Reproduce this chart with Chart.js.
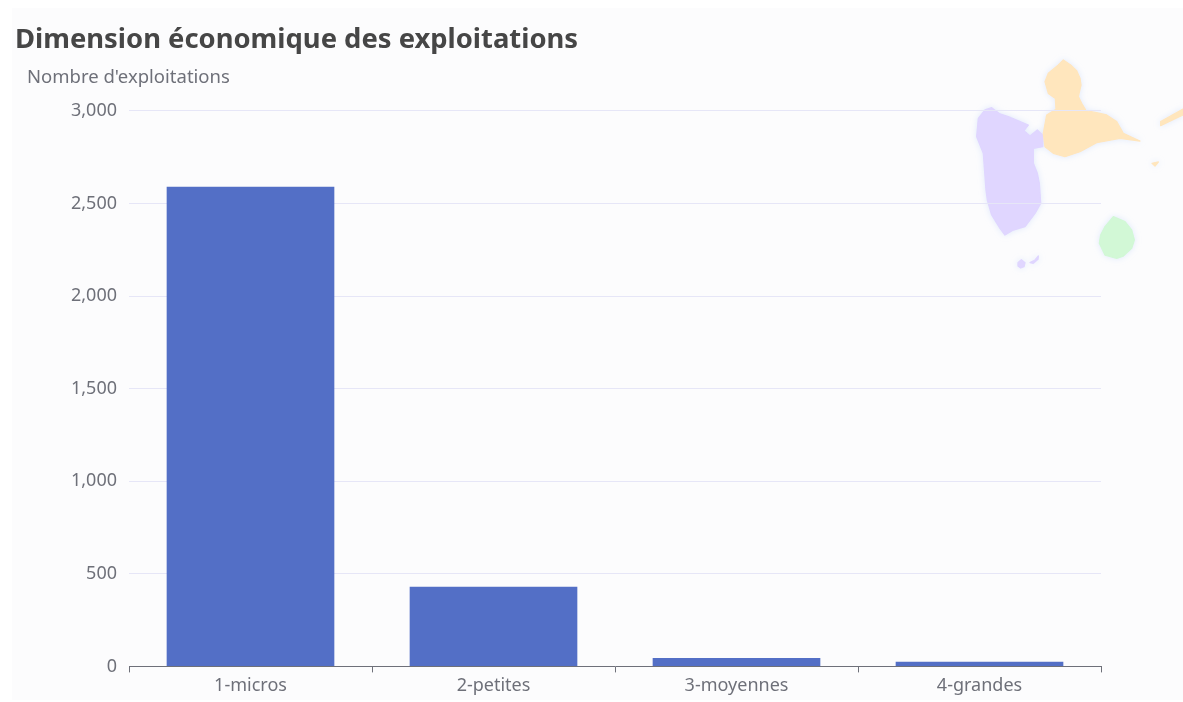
<!DOCTYPE html>
<html lang="fr">
<head>
<meta charset="utf-8">
<title>Dimension économique des exploitations</title>
<script src="https://cdn.jsdelivr.net/npm/chart.js@4/dist/chart.umd.min.js"></script>
<style>
  html, body { margin: 0; padding: 0; background: #fff; overflow: hidden; }
  #panel { position: absolute; left: 12px; top: 8px; width: 1171px; height: 692px; background: #fcfcfd; }
  #map { position: absolute; left: 950px; top: 40px; }
  #chart { position: absolute; left: 0; top: 0; }
</style>
</head>
<body>
<div id="panel"></div>
<!-- Guadeloupe silhouette behind the chart -->
<svg id="map" width="233" height="240" viewBox="0 0 699 720">
  <defs>
    <filter id="glow" x="-30%" y="-30%" width="160%" height="160%">
      <feGaussianBlur stdDeviation="2" in="SourceGraphic" result="soft"/>
      <feDropShadow in="soft" dx="0" dy="0" stdDeviation="10" flood-color="#dde7fb" flood-opacity="0.9"/>
    </filter>
  </defs>
  <g filter="url(#glow)" stroke-width="4" stroke-linejoin="round">
    <path fill="#e0d6ff" stroke="#e0d6ff" d="M125 203L150 222L175 230L200 240L235 255L222 272L240 288L262 270L278 285L278 320L250 325L250 370L262 400L268 430L272 490L255 520L225 560L190 570L165 585L150 565L125 525L112 480L108 450L100 340L80 290L85 235L105 210Z"/>
    <path fill="#e0d6ff" stroke="#e0d6ff" d="M204 668L214 659L225 668L222 680L212 684L204 678Z M240 668L255 660L265 648L264 658L250 670Z"/>
    <path fill="#ffe6bd" stroke="#ffe6bd" d="M340 60L362 75L380 92L390 115L393 135L385 170L395 190L408 212L440 218L470 225L500 245L520 280L570 303L510 295L440 308L390 335L345 350L310 340L285 320L280 280L290 225L318 208L316 175L295 160L285 125L295 100L325 75Z"/>
    <path fill="#ffe6bd" stroke="#ffe6bd" d="M632 245L699 207L699 225L632 257Z M606 370L625 366L615 378Z"/>
    <path fill="#d2f8d6" stroke="#d2f8d6" d="M490 530L525 545L545 570L553 600L545 625L520 648L500 655L465 645L448 610L452 585L465 560Z"/>
  </g>
</svg>
<canvas id="chart" width="1183" height="702"></canvas>
<script>
const categories = ['1-micros', '2-petites', '3-moyennes', '4-grandes'];
const values = [2590, 430, 45, 25];
const yTicks = [0, 500, 1000, 1500, 2000, 2500, 3000];
const chartTitle = 'Dimension économique des exploitations';
const yAxisName = "Nombre d'exploitations";

const fontFamily = '"Noto Sans", "Open Sans", sans-serif';
const labelColor = '#6e7079';

// Axis name sits above the value axis, horizontally
const axisNamePlugin = {
  id: 'axisName',
  afterDraw(chart) {
    const ctx = chart.ctx;
    ctx.save();
    ctx.font = '18.5px ' + fontFamily;
    ctx.fillStyle = labelColor;
    ctx.textBaseline = 'middle';
    ctx.fillText(yAxisName, 27, 78);
    ctx.restore();
  }
};

new Chart(document.getElementById('chart').getContext('2d'), {
  type: 'bar',
  data: {
    labels: categories,
    datasets: [{
      data: values,
      backgroundColor: '#536fc6',
      barPercentage: 0.69,
      categoryPercentage: 1
    }]
  },
  options: {
    responsive: false,
    animation: false,
    layout: { padding: { left: 15, right: 82, top: 24, bottom: 2 } },
    plugins: {
      legend: { display: false },
      tooltip: { enabled: false },
      title: {
        display: true,
        text: chartTitle,
        align: 'start',
        color: '#464646',
        font: { family: fontFamily, size: 27.4, weight: 'bold' },
        padding: { top: 0, bottom: 54 }
      }
    },
    scales: {
      x: {
        grid: {
          drawOnChartArea: false,
          color: labelColor,
          tickLength: 6
        },
        border: { color: labelColor },
        ticks: {
          color: labelColor,
          font: { family: fontFamily, size: 18 },
          padding: 3,
          maxRotation: 0
        }
      },
      y: {
        min: 0,
        max: 3000,
        afterFit(scale) { scale.width = 114; },
        afterBuildTicks(scale) { scale.ticks = yTicks.map(v => ({ value: v })); },
        grid: { color: '#e6e6f7', drawTicks: false },
        border: { display: false },
        ticks: {
          color: labelColor,
          font: { family: fontFamily, size: 18 },
          padding: 12,
          callback: v => v.toLocaleString('en-US')
        }
      }
    }
  },
  plugins: [axisNamePlugin]
});
</script>
</body>
</html>
